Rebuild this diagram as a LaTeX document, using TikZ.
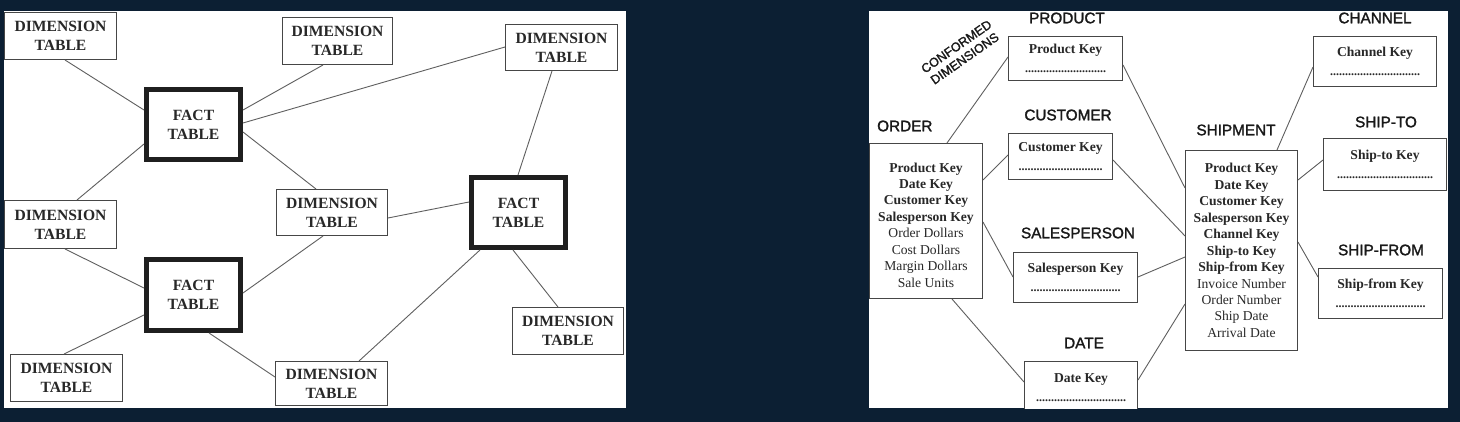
\documentclass[tikz,border=0pt]{standalone}
\usepackage{fontspec}
\setmainfont{Liberation Serif}
\setsansfont{Liberation Sans}
\newfontfamily\lblfont{Liberation Sans}[RawFeature={embolden=1.6}]
\usetikzlibrary{calc}
\definecolor{navy}{RGB}{12,31,51}
\definecolor{ink}{RGB}{40,40,40}
\definecolor{edge}{RGB}{70,70,70}
\definecolor{wirec}{RGB}{95,95,95}
\newcommand\dotrow[1]{{\fontsize{12}{19}\selectfont\bfseries #1}}
\tikzset{
  dimbox/.style={draw=edge, line width=1.2pt, fill=white, inner sep=0pt, align=center, text=ink,
    font=\fontsize{15.6}{19}\selectfont\bfseries},
  factbox/.style={dimbox, draw=black!88, line width=5pt},
  keybox/.style={draw=edge, line width=1.1pt, fill=white, inner sep=0pt, align=center, text=ink,
    font=\fontsize{13.6}{19}\selectfont},
  tblbox/.style={keybox, font=\fontsize{13.6}{16.45}\selectfont},
  lbl/.style={inner sep=0pt, text=black!90, font=\lblfont\fontsize{15.3}{18}\selectfont},
  wire/.style={draw=wirec, line width=0.9pt}
}
\begin{document}
\begin{tikzpicture}[x=1pt,y=-1pt]
\fill[navy] (0,0) rectangle (1460,422);
\useasboundingbox (0,0) rectangle (1460,422);
% ---------------- left panel ----------------
\begin{scope}
\clip (4,11) rectangle (626,408);
\fill[white] (4,11) rectangle (626,408);
\node[dimbox, minimum width=111.8, minimum height=46.8] (d1) at (60.5,36) {DIMENSION\\TABLE};
\node[dimbox, minimum width=109.8, minimum height=46.8] (d2) at (337.5,41) {DIMENSION\\TABLE};
\node[dimbox, minimum width=111.8, minimum height=45.8] (d3) at (561.5,47.5) {DIMENSION\\TABLE};
\node[dimbox, minimum width=111.8, minimum height=47.8] (d4) at (60.5,224.5) {DIMENSION\\TABLE};
\node[dimbox, minimum width=110.8, minimum height=45.8] (d5) at (332,212.5) {DIMENSION\\TABLE};
\node[dimbox, minimum width=111.8, minimum height=46.8] (d6) at (66.5,378) {DIMENSION\\TABLE};
\node[dimbox, minimum width=111.8, minimum height=43.8] (d7) at (331.5,383.5) {DIMENSION\\TABLE};
\node[dimbox, minimum width=110.8, minimum height=46.8] (d8) at (568,331) {DIMENSION\\TABLE};
\node[factbox, minimum width=94, minimum height=70] (f1) at (193.5,124.5) {FACT\\TABLE};
\node[factbox, minimum width=94, minimum height=70] (f2) at (518.5,212.5) {FACT\\TABLE};
\node[factbox, minimum width=94, minimum height=71] (f3) at (193.5,295) {FACT\\TABLE};
\draw[wire] ($(d1.north west)+(61,48)$) -- ($(f1.north west)+(0,23)$);
\draw[wire] ($(f1.north west)+(99,23)$) -- ($(d2.north west)+(41,48)$);
\draw[wire] ($(f1.north west)+(99,36)$) -- ($(d3.north west)+(0,23)$);
\draw[wire] ($(f1.north west)+(99,45)$) -- ($(d5.north west)+(40,0)$);
\draw[wire] ($(f1.north west)+(0,57)$) -- ($(d4.north west)+(73,0)$);
\draw[wire] ($(d4.north west)+(61,49)$) -- ($(f3.north west)+(0,31)$);
\draw[wire] ($(f3.north west)+(0,58)$) -- ($(d6.north west)+(54,0)$);
\draw[wire] ($(f3.north west)+(99,36)$) -- ($(d5.north west)+(47,47)$);
\draw[wire] ($(f3.north west)+(65,76)$) -- ($(d7.north west)+(0,16)$);
\draw[wire] ($(d5.north west)+(112,29)$) -- ($(f2.north west)+(0,27)$);
\draw[wire] ($(d3.north west)+(47,47)$) -- ($(f2.north west)+(49,0)$);
\draw[wire] ($(f2.north west)+(11,75)$) -- ($(d7.north west)+(84,0)$);
\draw[wire] ($(f2.north west)+(44,75)$) -- ($(d8.north west)+(46,0)$);
\end{scope}
% ---------------- right panel ----------------
\begin{scope}
\clip (869,11) rectangle (1448,408);
\fill[white] (869,11) rectangle (1448,408);
\node[lbl, font=\lblfont\fontsize{12.6}{14.5}\selectfont, rotate=35, align=center] (conf) at (960.5,52.5) {CONFORMED\\DIMENSIONS};
\node[lbl] (lprod) at (1067,18) {PRODUCT};
\node[lbl] (lcust) at (1068,115) {CUSTOMER};
\node[lbl] (lsales) at (1078,233) {SALESPERSON};
\node[lbl] (ldate) at (1084,343) {DATE};
\node[lbl, anchor=west] (lorder) at (877,126) {ORDER};
\node[lbl] (lship) at (1236,130) {SHIPMENT};
\node[lbl] (lchan) at (1375,18) {CHANNEL};
\node[lbl] (lshipto) at (1386,122) {SHIP-TO};
\node[lbl] (lshipfrom) at (1381,250) {SHIP-FROM};
\node[keybox, minimum width=113.9, minimum height=43.9] (prod) at (1065.5,58.5)
  {\textbf{Product Key}\\\dotrow{...........................}};
\node[keybox, minimum width=103.9, minimum height=45.9] (cust) at (1060.5,156.5)
  {\textbf{Customer Key}\\\dotrow{............................}};
\node[keybox, minimum width=123.9, minimum height=49.9] (sales) at (1075.5,277.5)
  {\textbf{Salesperson Key}\\\dotrow{..............................}};
\node[keybox, minimum width=112.9, minimum height=52.9] (date) at (1081,388)
  {\textbf{Date Key}\\\dotrow{..............................}};
\node[keybox, minimum width=122.9, minimum height=49.9] (chan) at (1375,61.5)
  {\textbf{Channel Key}\\\dotrow{..............................}};
\node[keybox, minimum width=122.9, minimum height=51.9] (shipto) at (1385,164.5)
  {\textbf{Ship-to Key}\\\dotrow{................................}};
\node[keybox, minimum width=123.9, minimum height=49.9] (shipfrom) at (1380.5,293.5)
  {\textbf{Ship-from Key}\\\dotrow{..............................}};
\node[tblbox, minimum width=112.9, minimum height=154.9] (order) at (926,221)
  {\rule{0pt}{17.3pt}\textbf{Product Key}\\\textbf{Date Key}\\\textbf{Customer Key}\\\textbf{Salesperson Key}\\
   Order Dollars\\Cost Dollars\\Margin Dollars\\Sale Units};
\node[tblbox, minimum width=111.9, minimum height=199.9] (ship) at (1241.5,250.5)
  {\textbf{Product Key}\\\textbf{Date Key}\\\textbf{Customer Key}\\\textbf{Salesperson Key}\\
   \textbf{Channel Key}\\\textbf{Ship-to Key}\\\textbf{Ship-from Key}\\
   Invoice Number\\Order Number\\Ship Date\\Arrival Date};
\draw[wire] ($(order.north west)+(78,0)$) -- ($(prod.north west)+(0,21)$);
\draw[wire] ($(order.north west)+(114,37)$) -- ($(cust.north west)+(0,22)$);
\draw[wire] ($(order.north west)+(114,79)$) -- ($(sales.north west)+(0,25)$);
\draw[wire] ($(order.north west)+(83,156)$) -- ($(date.north west)+(0,21)$);
\draw[wire] ($(prod.north west)+(115,29)$) -- ($(ship.north west)+(0,38)$);
\draw[wire] ($(cust.north west)+(105,27)$) -- ($(ship.north west)+(0,86)$);
\draw[wire] ($(sales.north west)+(125,25)$) -- ($(ship.north west)+(0,107)$);
\draw[wire] ($(date.north west)+(114,19)$) -- ($(ship.north west)+(0,154)$);
\draw[wire] ($(ship.north west)+(92,0)$) -- ($(chan.north west)+(0,31)$);
\draw[wire] ($(ship.north west)+(113,30)$) -- ($(shipto.north west)+(0,22)$);
\draw[wire] ($(ship.north west)+(113,92)$) -- ($(shipfrom.north west)+(0,9)$);
\end{scope}
\end{tikzpicture}
\end{document}
